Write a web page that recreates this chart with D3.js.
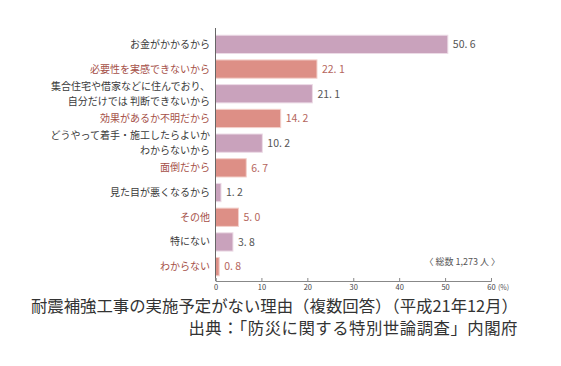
<!DOCTYPE html>
<html>
<head>
<meta charset="utf-8">
<script src="https://cdn.jsdelivr.net/npm/d3@7"></script>
<style>
  body { margin: 0; background: #fff; }
  text { font-family: 'Noto Sans CJK JP', sans-serif; }
</style>
</head>
<body>
<div id="chart"></div>
<script>
// reasons (multi-line labels split with \n)
let reasons = [
  'お金がかかるから',
  '必要性を実感できないから',
  '集合住宅や借家などに住んでおり、\n自分だけでは 判断できないから',
  '効果があるか不明だから',
  'どうやって着手・施工したらよいか\nわからないから',
  '面倒だから',
  '見た目が悪くなるから',
  'その他',
  '特にない',
  'わからない'
]
let percents = [50.6, 22.1, 21.1, 14.2, 10.2, 6.7, 1.2, 5.0, 3.8, 0.8]
let groups = ['a', 'b', 'a', 'b', 'a', 'b', 'a', 'b', 'a', 'b']
let xTicks = [0, 10, 20, 30, 40, 50, 60]

let datapoints = reasons.map((r, i) => ({ reason: r, value: percents[i], group: groups[i] }))

let width = 561
let height = 366

let svg = d3
  .select('#chart')
  .append('svg')
  .attr('width', width)
  .attr('height', height)

let xPositionScale = d3.scaleLinear().domain([0, 60]).range([215.5, 491])
let yPositionScale = d3
  .scaleBand()
  .domain(reasons)
  .range([32, 279])
  .paddingInner(0.26)
  .paddingOuter(0.13)

let barColor = d3.scaleOrdinal().domain(['a', 'b']).range(['#c9a2bc', '#dd8f86'])
let barEdge = d3.scaleOrdinal().domain(['a', 'b']).range(['#ecdbe6', '#f3d0cb'])
let labelColor = d3.scaleOrdinal().domain(['a', 'b']).range(['#3a3a3a', '#a54f47'])
let valueColor = d3.scaleOrdinal().domain(['a', 'b']).range(['#555555', '#b5665d'])

// bars
svg
  .selectAll('.bar')
  .data(datapoints)
  .enter()
  .append('rect')
  .attr('class', 'bar')
  .attr('x', xPositionScale(0))
  .attr('y', d => yPositionScale(d.reason))
  .attr('width', d => xPositionScale(d.value) - xPositionScale(0))
  .attr('height', yPositionScale.bandwidth())
  .attr('fill', d => barColor(d.group))
  .attr('stroke', d => barEdge(d.group))
  .attr('stroke-width', 1)

// value labels
svg
  .selectAll('.value-text')
  .data(datapoints)
  .enter()
  .append('text')
  .attr('class', 'value-text')
  .attr('x', d => xPositionScale(d.value) + 5)
  .attr('y', d => yPositionScale(d.reason) + yPositionScale.bandwidth() / 2)
  .attr('dy', '0.36em')
  .attr('font-size', 10.5)
  .attr('fill', d => valueColor(d.group))
  .text(d => d.value.toFixed(1).replace('.', '. '))

// category labels
let labels = svg
  .selectAll('.region-text')
  .data(datapoints)
  .enter()
  .append('text')
  .attr('class', 'region-text')
  .attr('text-anchor', 'end')
  .attr('font-size', 10)
  .attr('fill', d => labelColor(d.group))

labels.each(function(d) {
  let lines = d.reason.split('\n')
  let cy = yPositionScale(d.reason) + yPositionScale.bandwidth() / 2
  let step = 14.6
  let start = cy - (lines.length - 1) * step / 2
  d3.select(this)
    .selectAll('tspan')
    .data(lines)
    .enter()
    .append('tspan')
    .attr('x', 210)
    .attr('y', (l, i) => start + i * step)
    .attr('dy', '0.35em')
    .text(l => l)
})

// y axis line
svg
  .append('line')
  .attr('x1', xPositionScale(0))
  .attr('x2', xPositionScale(0))
  .attr('y1', 28)
  .attr('y2', 281)
  .attr('stroke', '#666')
  .attr('stroke-width', 1)

// x axis
let xAxis = d3
  .axisBottom(xPositionScale)
  .tickValues(xTicks)
  .tickSize(-3)
  .tickPadding(4)
svg
  .append('g')
  .attr('class', 'axis x-axis')
  .attr('transform', 'translate(0,281)')
  .call(xAxis)
  .call(g => g.select('.domain').attr('stroke', '#888'))
  .call(g => g.selectAll('.tick line').attr('stroke', '#888'))
  .call(g => g.selectAll('.tick text')
    .attr('font-size', 7.5)
    .attr('fill', '#444')
    .attr('font-family', "'Noto Sans CJK JP', sans-serif"))

svg
  .append('text')
  .attr('x', xPositionScale(60) + 7)
  .attr('y', 290)
  .attr('font-size', 7)
  .attr('fill', '#555')
  .text('(%)')

svg
  .append('text')
  .attr('x', 500)
  .attr('y', 262)
  .attr('dy', '0.35em')
  .attr('text-anchor', 'end')
  .attr('font-size', 9)
  .attr('fill', '#555')
  .text('〈 総数 1,273 人 〉')

// caption
svg
  .append('text')
  .attr('x', 518)
  .attr('y', 306)
  .attr('dy', '0.35em')
  .attr('text-anchor', 'end')
  .attr('font-size', 16.4)
  .attr('fill', '#333')
  .text('耐震補強工事の実施予定がない理由（複数回答）（平成21年12月）')

svg
  .append('text')
  .attr('x', 518)
  .attr('y', 328)
  .attr('dy', '0.35em')
  .attr('text-anchor', 'end')
  .attr('font-size', 16.4)
  .attr('letter-spacing', 0.5)
  .attr('fill', '#333')
  .text('出典：「防災に関する特別世論調査」内閣府')
</script>
</body>
</html>
